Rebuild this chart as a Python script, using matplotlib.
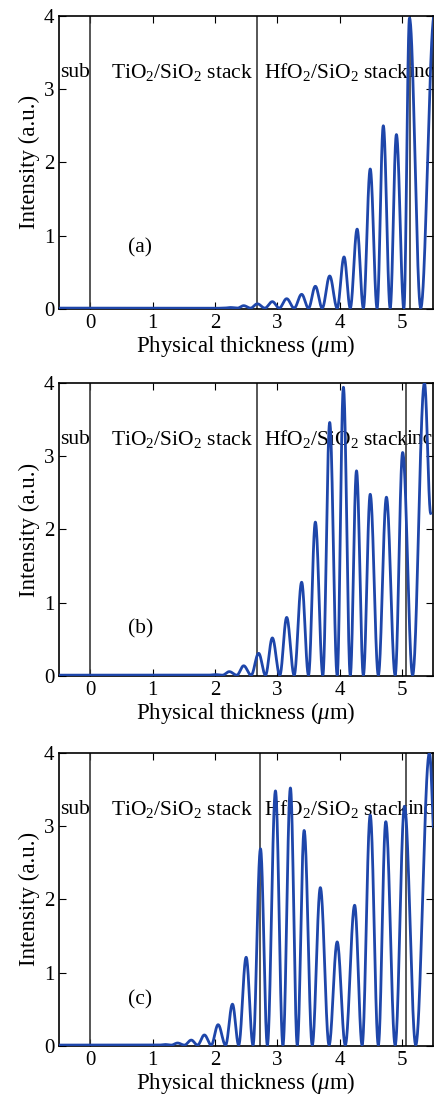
import numpy as np
import matplotlib
matplotlib.use("Agg")
import matplotlib.pyplot as plt

plt.rcParams['font.family'] = ['Liberation Serif', 'DejaVu Serif']
plt.rcParams['mathtext.fontset'] = 'custom'
plt.rcParams['mathtext.rm'] = 'Liberation Serif'
plt.rcParams['mathtext.it'] = 'Liberation Serif:italic'

# peaks and troughs (thickness in um, intensity in a.u.)
a_peak_x = [2.03, 2.25, 2.46, 2.68, 2.92, 3.15, 3.39, 3.61, 3.84, 4.07, 4.28, 4.49, 4.70, 4.91, 5.12]
a_peak_y = [0.01, 0.02, 0.045, 0.07, 0.10, 0.14, 0.20, 0.31, 0.45, 0.71, 1.09, 1.91, 2.50, 2.38, 3.97]
a_trough_x = [1.92, 2.14, 2.36, 2.57, 2.80, 3.03, 3.27, 3.50, 3.72, 3.96, 4.17, 4.38, 4.60, 4.81, 5.03, 5.30]
a_end = (5.52, 4.02)

b_peak_x = [2.00, 2.23, 2.46, 2.70, 2.92, 3.15, 3.39, 3.61, 3.84, 4.06, 4.27, 4.49, 4.75, 5.01, 5.36]
b_peak_y = [0.02, 0.06, 0.14, 0.31, 0.52, 0.80, 1.28, 2.10, 3.46, 3.94, 2.80, 2.48, 2.44, 3.05, 4.00]
b_trough_x = [1.89, 2.12, 2.35, 2.58, 2.81, 3.04, 3.27, 3.50, 3.73, 3.96, 4.17, 4.38, 4.62, 4.89, 5.17]
b_end = (5.46, 2.22)

c_peak_x = [1.20, 1.40, 1.62, 1.83, 2.05, 2.28, 2.50, 2.73, 2.97, 3.21, 3.43, 3.69, 3.96, 4.24, 4.49, 4.74, 5.04, 5.44]
c_peak_y = [0.02, 0.04, 0.08, 0.15, 0.29, 0.57, 1.21, 2.69, 3.48, 3.52, 2.94, 2.16, 1.42, 1.92, 3.15, 3.06, 3.27, 4.00]
c_trough_x = [1.10, 1.30, 1.51, 1.72, 1.94, 2.17, 2.38, 2.61, 2.84, 3.09, 3.32, 3.56, 3.83, 4.09, 4.36, 4.62, 4.89, 5.22]
c_end = (5.53, 2.68)

boundaries = [[0, 2.68, 5.13], [0, 2.68, 5.06], [0, 2.72, 5.07]]
inc_x = [5.10, 5.08, 5.09]
panel_labels = ['(a)', '(b)', '(c)']
label_y = [0.83, 0.65, 0.63]
baseline = 0.012


def smooth_through(xk, yk, n=40):
    # half-cosine segments between the read extrema
    xs, ys = [], []
    for i in range(len(xk) - 1):
        t = np.linspace(0, 1, n, endpoint=False)
        e = (1 - np.cos(np.pi * t)) / 2
        xs.append(xk[i] + (xk[i + 1] - xk[i]) * t)
        ys.append(yk[i] + (yk[i + 1] - yk[i]) * e)
    xs.append([xk[-1]])
    ys.append([yk[-1]])
    return np.concatenate(xs), np.concatenate(ys)


def key_points(peak_x, peak_y, trough_x, end):
    xk = [-0.5]
    yk = [baseline]
    for i in range(len(peak_x)):
        xk += [trough_x[i], peak_x[i]]
        yk += [baseline, peak_y[i]]
    for t in trough_x[len(peak_x):]:
        xk.append(t)
        yk.append(baseline)
    xk.append(end[0])
    yk.append(end[1])
    return xk, yk


panels = [(a_peak_x, a_peak_y, a_trough_x, a_end),
          (b_peak_x, b_peak_y, b_trough_x, b_end),
          (c_peak_x, c_peak_y, c_trough_x, c_end)]

fig = plt.figure(figsize=(4.38, 10.98), dpi=100)
bottoms = [0.7186, 0.3843, 0.0474]

for k, (px, py, tx, end) in enumerate(panels):
    ax = fig.add_axes([0.135, bottoms[k], 0.854, 0.267])
    xk, yk = key_points(px, py, tx, end)
    x, y = smooth_through(xk, yk)
    ax.plot(x, y, color='#1e46aa', lw=2.0, zorder=3)
    for b in boundaries[k]:
        ax.axvline(b, color='#3a3a3a', lw=1.2, zorder=2)

    ax.text(-0.48, 3.23, 'sub', fontsize=15.5, va='center', zorder=1)
    ax.text(0.34, 3.23, r'TiO$_2$/SiO$_2$ stack', fontsize=15.5, va='center', zorder=1)
    ax.text(2.78, 3.23, r'HfO$_2$/SiO$_2$ stack', fontsize=15.5, va='center', zorder=1)
    ax.text(inc_x[k], 3.23, 'inc', fontsize=15.5, va='center', zorder=1, clip_on=True)
    ax.text(0.8, label_y[k], panel_labels[k], fontsize=15.5, ha='center', va='center')

    ax.set_xlim(-0.5, 5.5)
    ax.set_ylim(0, 4)
    ax.set_xticks([0, 1, 2, 3, 4, 5])
    ax.set_yticks([0, 1, 2, 3, 4])
    ax.tick_params(direction='in', top=True, right=True, length=5, width=0.8,
                   labelsize=15)
    for s in ax.spines.values():
        s.set_linewidth(1.2)
    ax.set_xlabel(r'Physical thickness ($\mu$m)', fontsize=16.5, labelpad=0)
    ax.set_ylabel('Intensity (a.u.)', fontsize=16.5, labelpad=3)

fig.savefig('out.png', dpi=100)
